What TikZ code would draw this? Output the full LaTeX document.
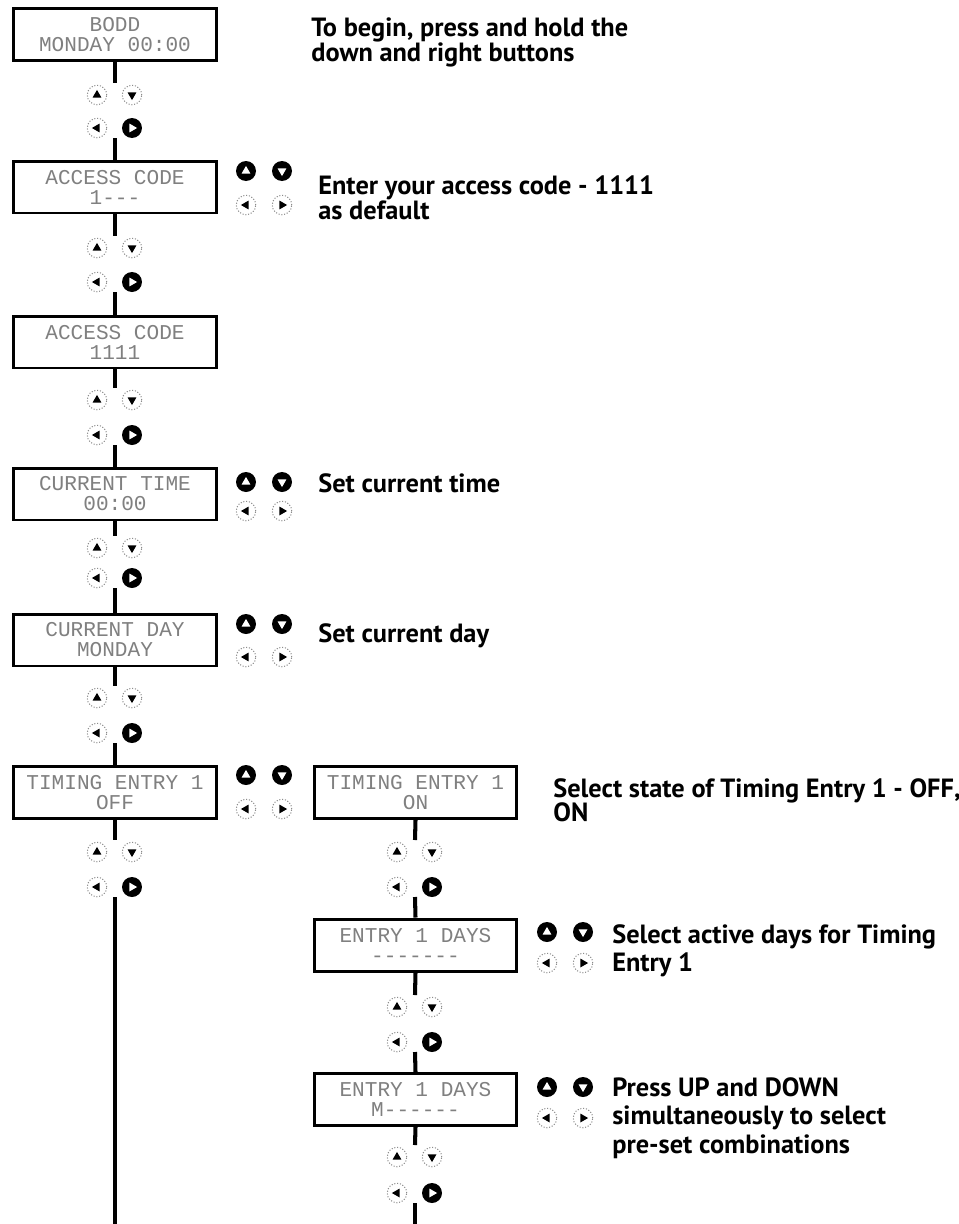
\documentclass[tikz,border=0pt]{standalone}
\usepackage{fontspec}
\newfontfamily\monof{Liberation Mono}
\newfontfamily\notef{PT Sans}
\newcommand{\dsh}{\mbox{-}}
\tikzset{
  lcd/.style={draw, line width=1.7pt, minimum width=4.06cm, minimum height=1.04cm,
    inner sep=0pt, align=center, text=black!50,
    font=\monof\fontsize{12}{11.4}\selectfont},
  conn/.style={line width=2.3pt},
  boff/.style={circle, draw=black!45, densely dotted, line width=0.6pt, minimum size=0.39cm, inner sep=0pt, fill=white},
  bon/.style={circle, fill=black, minimum size=0.40cm, inner sep=0pt},
  bofftri/.style={fill=black},
  bontri/.style={fill=white},
  note/.style={anchor=north west, inner sep=0pt, align=left,
    font=\notef\bfseries\fontsize{15}{#1}\selectfont},
}
\newcommand{\bttn}[4]{%
  \node[#1] (#2) at (#3) {};
  \fill[#1tri, shift={(#2.center)}, rotate=#4] (0:2.9pt) -- (120:2.9pt) -- (240:2.9pt) -- cycle;}
\newcommand{\gapbtns}[4]{%
  \bttn{boff}{#1u}{#2-18,#3}{90}
  \bttn{boff}{#1d}{#2+17,#3}{-90}
  \bttn{boff}{#1l}{#2-18,#4}{180}
  \bttn{bon}{#1r}{#2+17,#4}{0}
  \coordinate (#1a) at (#2,#3-12);
  \coordinate (#1b) at (#2,#4+10);}
\newcommand{\sidebtns}[4]{%
  \bttn{bon}{#1u}{#2,#3}{90}
  \bttn{bon}{#1d}{#2+36,#3}{-90}
  \bttn{boff}{#1l}{#2,#4}{180}
  \bttn{boff}{#1r}{#2+36,#4}{0}}
\begin{document}
\begin{tikzpicture}[x=0.02cm,y=-0.02cm]
\useasboundingbox[fill=white] (0,0) rectangle (958,1224);
% boxes
\node[lcd] (b1) at (115,34.5) {BODD\\MONDAY 00:00};
\node[lcd] (b2) at (115,187) {ACCESS CODE\\1\dsh\dsh\dsh};
\node[lcd] (b3) at (115,342) {ACCESS CODE\\1111};
\node[lcd] (b4) at (115,494) {CURRENT TIME\\00:00};
\node[lcd] (b5) at (115,640) {CURRENT DAY\\MONDAY};
\node[lcd] (b6) at (115,792.5) {TIMING ENTRY 1\\OFF};
\node[lcd] (b7) at (415.5,792.5) {TIMING ENTRY 1\\ON};
\node[lcd] (b8) at (415.5,945) {ENTRY 1 DAYS\\\dsh\dsh\dsh\dsh\dsh\dsh\dsh};
\node[lcd] (b9) at (415.5,1099.5) {ENTRY 1 DAYS\\M\dsh\dsh\dsh\dsh\dsh\dsh};
% buttons between boxes
\gapbtns{g1}{115}{95}{128}
\gapbtns{g2}{115}{248}{282}
\gapbtns{g3}{115}{400}{435}
\gapbtns{g4}{115}{548}{578}
\gapbtns{g5}{115}{698}{733}
\gapbtns{g6}{115}{852}{887}
\gapbtns{g7}{415}{852}{887}
\gapbtns{g8}{415}{1007}{1042}
\gapbtns{g9}{415}{1157}{1193}
\coordinate (lend) at (115,1224);
\coordinate (rend) at (415,1224);
% side buttons
\sidebtns{s2}{246}{171}{205}
\sidebtns{s4}{246}{482}{511}
\sidebtns{s5}{246}{624}{657}
\sidebtns{s6}{246}{775}{809}
\sidebtns{s8}{547}{932}{963}
\sidebtns{s9}{547}{1087}{1118}
% connectors
\draw[conn] (b1.south) -- (g1a);  \draw[conn] (g1b) -- (b2.north);
\draw[conn] (b2.south) -- (g2a);  \draw[conn] (g2b) -- (b3.north);
\draw[conn] (b3.south) -- (g3a);  \draw[conn] (g3b) -- (b4.north);
\draw[conn] (b4.south) -- (g4a);  \draw[conn] (g4b) -- (b5.north);
\draw[conn] (b5.south) -- (g5a);  \draw[conn] (g5b) -- (b6.north);
\draw[conn] (b6.south) -- (g6a);  \draw[conn] (g6b) -- (lend);
\draw[conn] (b7.south) -- (g7a);  \draw[conn] (g7b) -- (b8.north);
\draw[conn] (b8.south) -- (g8a);  \draw[conn] (g8b) -- (b9.north);
\draw[conn] (b9.south) -- (g9a);  \draw[conn] (g9b) -- (rend);
% notes
\node[note=14.6pt] (t1) at (311,17) {To begin, press and hold the\\down and right buttons};
\node[note=13.6pt] (t2) at (318,175) {Enter your access code - 1111\\as default};
\node[note=14pt] (t3) at (318,473) {Set current time};
\node[note=14pt] (t4) at (318,623) {Set current day};
\node[note=14pt] (t5) at (553,778) {Select state of Timing Entry 1 - OFF,\\ON};
\node[note=16.4pt] (t6) at (612,924) {Select active days for Timing\\Entry 1};
\node[note=16.2pt] (t7) at (612,1077) {Press UP and DOWN\\simultaneously to select\\pre-set combinations};
\end{tikzpicture}
\end{document}
